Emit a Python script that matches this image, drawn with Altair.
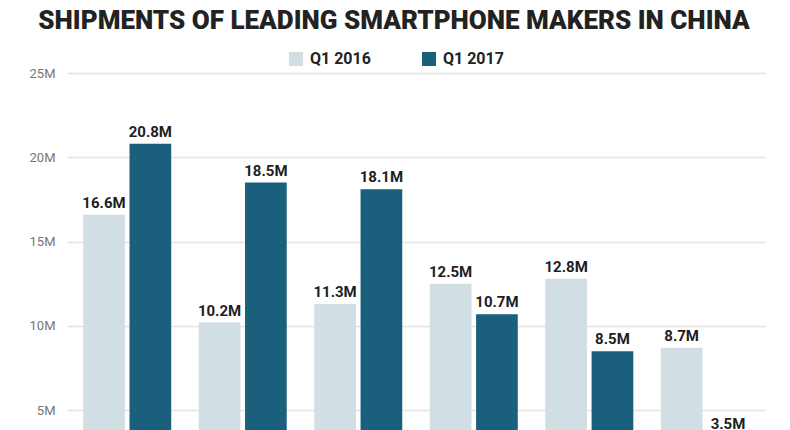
import altair as alt
import pandas as pd

makers = ["Huawei", "Oppo", "Vivo", "Xiaomi", "Apple", "Samsung"]
q1_2016 = [16.6, 10.2, 11.3, 12.5, 12.8, 8.7]
q1_2017 = [20.8, 18.5, 18.1, 10.7, 8.5, 3.5]
periods = ["Q1 2016", "Q1 2017"]
colors = ["#d1dee4", "#1a5f7c"]
y_ticks = [5, 10, 15, 20, 25]

rows = []
for m, a, b in zip(makers, q1_2016, q1_2017):
    rows.append({"maker": m, "period": periods[0], "value": a, "label": f"{a}M"})
    rows.append({"maker": m, "period": periods[1], "value": b, "label": f"{b}M"})
df = pd.DataFrame(rows)

x = alt.X("maker:N", sort=makers, title=None,
          scale=alt.Scale(paddingInner=0.238, paddingOuter=0.14),
          axis=None)
xo = alt.XOffset("period:N", sort=periods, scale=alt.Scale(paddingInner=0.1, paddingOuter=0))
y = alt.Y("value:Q", title=None,
          scale=alt.Scale(domain=[3.83, 25], zero=False, nice=False),
          axis=alt.Axis(values=y_ticks, labelExpr="datum.value + 'M'", ticks=False,
                        domain=False, labelPadding=12, labelFont="Roboto",
                        labelFontSize=13, labelColor="#777777", gridColor="#e3e3e3",
                        gridWidth=1.5))

base = alt.Chart(df)

bars = base.mark_bar(clip=True).encode(
    x=x, xOffset=xo, y=y,
    color=alt.Color("period:N", sort=periods,
                    scale=alt.Scale(domain=periods, range=colors),
                    legend=alt.Legend(title=None, orient="none", direction="horizontal",
                                      legendX=221, legendY=-22, symbolType="square",
                                      symbolSize=196, symbolStrokeWidth=0,
                                      labelFont="Roboto", labelFontSize=16,
                                      labelFontWeight="bold", labelColor="#222222",
                                      labelOffset=6, columnPadding=50)),
)

labels = base.mark_text(baseline="bottom", dy=-4, font="Roboto", fontSize=15,
                        fontWeight="bold", color="#1e1e1e").encode(
    x=x, xOffset=xo, y=y, text="label:N",
)

chart = (bars + labels).properties(
    width=698, height=357,
    autosize=alt.AutoSizeParams(type="none"),
    padding={"left": 67, "top": 73, "right": 25, "bottom": 0},
    title=alt.TitleParams("SHIPMENTS OF LEADING SMARTPHONE MAKERS IN CHINA",
                          font="Roboto", fontSize=26, fontWeight=900,
                          color="#222222", anchor="middle", dx=-22, dy=4, offset=0,
                          baseline="alphabetic"),
).configure(background="white").configure_view(stroke=None)

chart.save("out.html", embed_options={"renderer": "svg", "actions": False})
